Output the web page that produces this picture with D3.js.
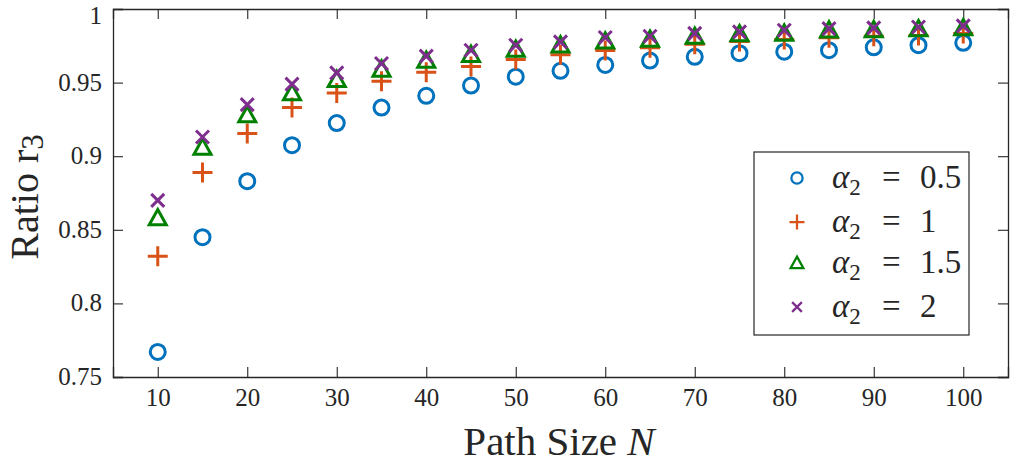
<!DOCTYPE html>
<html><head><meta charset="utf-8">
<script src="https://cdn.jsdelivr.net/npm/d3@7"></script>
<style>body{margin:0;background:#fff}svg{display:block}</style>
</head><body>
<svg id="c" width="1024" height="464"></svg>
<script>
const N = [10,15,20,25,30,35,40,45,50,55,60,65,70,75,80,85,90,95,100];
const a05 = [0.767,0.845,0.883,0.9075,0.9225,0.933,0.941,0.948,0.954,0.958,0.962,0.965,0.9675,0.970,0.971,0.972,0.974,0.9754,0.977];
const a1  = [0.832,0.889,0.9155,0.933,0.943,0.951,0.957,0.961,0.9657,0.969,0.9718,0.9736,0.976,0.978,0.9793,0.9804,0.9815,0.982,0.9834];
const a15 = [0.858,0.906,0.928,0.943,0.952,0.959,0.965,0.969,0.9725,0.9754,0.9781,0.9793,0.9813,0.983,0.9834,0.9856,0.9858,0.9864,0.9871];
const a2  = [0.870,0.913,0.935,0.949,0.9566,0.963,0.968,0.972,0.9754,0.9777,0.9806,0.9815,0.9834,0.9845,0.9856,0.9867,0.9872,0.9878,0.9885];
const seriesLabels = ["0.5","1","1.5","2"];
const xTicks = [10,20,30,40,50,60,70,80,90,100];
const yTicks = [0.75,0.8,0.85,0.9,0.95,1];
const yTickLabels = ["0.75","0.8","0.85","0.9","0.95","1"];

const svg = d3.select("#c");
const L=113, R=1008, T=9, B=377;
const x = d3.scaleLinear().domain([5,105]).range([L,R]);
const y = d3.scaleLinear().domain([0.75,1]).range([B,T]);
const font = "'Liberation Serif','DejaVu Serif',serif";
const axCol = "#262626";

// axes
const gx = svg.append("g").attr("transform",`translate(0,${B})`)
  .call(d3.axisBottom(x).tickValues(xTicks).tickSize(-10).tickPadding(14).tickFormat(d3.format("d")));
const gxt = svg.append("g").attr("transform",`translate(0,${T})`)
  .call(d3.axisTop(x).tickValues(xTicks).tickSize(-10).tickFormat(""));
const gy = svg.append("g").attr("transform",`translate(${L},0)`)
  .call(d3.axisLeft(y).tickValues(yTicks).tickSize(-10).tickPadding(11).tickFormat((d,i)=>yTickLabels[i]));
const gyr = svg.append("g").attr("transform",`translate(${R},0)`)
  .call(d3.axisRight(y).tickValues(yTicks).tickSize(-10).tickFormat(""));
[gx,gxt,gy,gyr].forEach(g=>{
  g.selectAll("path.domain").attr("stroke",axCol).attr("stroke-width",1.3);
  g.selectAll(".tick line").attr("stroke",axCol).attr("stroke-width",1.1);
  g.selectAll(".tick text").attr("fill",axCol).style("font-family",font).style("font-size","25px");
});
gx.selectAll(".tick text").attr("dy","0.6em");
gy.selectAll(".tick text").attr("dy",d=>d===1?"0.58em":"0.3em");

// labels
svg.append("text").attr("x",559).attr("y",455).attr("text-anchor","middle")
  .style("font-family",font).style("font-size","41px").attr("fill",axCol)
  .html("Path Size <tspan font-style='italic'>N</tspan>");
const yl = svg.append("text").attr("transform","translate(38,197) rotate(-90)").attr("text-anchor","middle")
  .style("font-family",font).style("font-size","40px").attr("fill",axCol);
yl.append("tspan").text("Ratio r");
yl.append("tspan").attr("dy",5).style("font-size","31px").text("3");

const colors = ["#0072BD","#D95319","#008000","#7E2F8E"];
const sw = 3;
function marker(g, type, cx, cy, col){
  if(type===0){
    g.append("circle").attr("cx",cx).attr("cy",cy).attr("r",7.5).attr("fill","none").attr("stroke",col).attr("stroke-width",sw);
  } else if(type===1){
    g.append("path").attr("d",`M${cx-10},${cy}H${cx+10}M${cx},${cy-10}V${cy+10}`).attr("stroke",col).attr("stroke-width",sw).attr("fill","none");
  } else if(type===2){
    const s=8.5;
    g.append("path").attr("d",`M${cx},${cy-s}L${cx+s},${cy+s*0.8}L${cx-s},${cy+s*0.8}Z`).attr("stroke",col).attr("stroke-width",sw).attr("fill","none").attr("stroke-linejoin","miter");
  } else {
    const s=6.5;
    g.append("path").attr("d",`M${cx-s},${cy-s}L${cx+s},${cy+s}M${cx-s},${cy+s}L${cx+s},${cy-s}`).attr("stroke",col).attr("stroke-width",sw).attr("fill","none");
  }
}
const allSeries = [a05,a1,a15,a2];
allSeries.forEach((vals,si)=>{
  const g = svg.append("g");
  vals.forEach((v,i)=>marker(g, si, x(N[i]), y(v), colors[si]));
});

// legend
const lg = svg.append("g");
lg.append("rect").attr("x",754).attr("y",152).attr("width",215).attr("height",183)
  .attr("fill","#fff").attr("stroke",axCol).attr("stroke-width",1.2);
const ly = [178,222,263,307];
seriesLabels.forEach((lab,i)=>{
  const lgm = lg.append("g").attr("transform",`translate(797,${ly[i]}) scale(0.75) translate(-797,${-ly[i]})`);
  marker(lgm, i, 797, ly[i], colors[i]);
  const t = lg.append("text").attr("x",832).attr("y",ly[i]+10).style("font-family",font).style("font-size","33px").attr("fill",axCol);
  t.append("tspan").attr("font-style","italic").text("α");
  t.append("tspan").attr("dy",7).style("font-size","23px").text("2");
  t.append("tspan").attr("x",882).attr("dy",-7).text("=");
  t.append("tspan").attr("x",920).text(lab);
});
</script>
</body></html>
